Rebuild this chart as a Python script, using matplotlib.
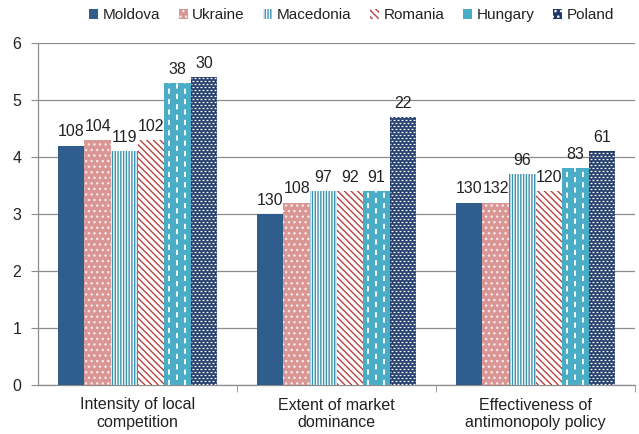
import matplotlib
matplotlib.use("Agg")
import matplotlib.pyplot as plt
import numpy as np
from matplotlib.patches import Patch

plt.rcParams['font.family'] = ['Liberation Sans', 'DejaVu Sans']
plt.rcParams['hatch.linewidth'] = 1.0

categories = ["Intensity of local\ncompetition", "Extent of market\ndominance",
              "Effectiveness of\nantimonopoly policy"]
countries = ["Moldova", "Ukraine", "Macedonia", "Romania", "Hungary", "Poland"]
moldova = [4.2, 3.0, 3.2]
ukraine = [4.3, 3.2, 3.2]
macedonia = [4.1, 3.4, 3.7]
romania = [4.3, 3.4, 3.4]
hungary = [5.3, 3.4, 3.8]
poland = [5.4, 4.7, 4.1]
ranks_moldova = [108, 130, 130]
ranks_ukraine = [104, 108, 132]
ranks_macedonia = [119, 97, 96]
ranks_romania = [102, 92, 120]
ranks_hungary = [38, 91, 83]
ranks_poland = [30, 22, 61]

values = [moldova, ukraine, macedonia, romania, hungary, poland]
ranks = [ranks_moldova, ranks_ukraine, ranks_macedonia, ranks_romania, ranks_hungary, ranks_poland]

styles = [
    dict(facecolor="#2E5D8E", edgecolor="#2E5D8E", hatch=None, pattern=None),
    dict(facecolor="#D99694", edgecolor="#F6E6E6", hatch="...", pattern=None),
    dict(facecolor="white", edgecolor="#3A93AC", hatch="||||||", pattern=None),
    dict(facecolor="white", edgecolor="#B8423F", hatch="\\\\\\\\\\", pattern=None),
    dict(facecolor="#4BACC6", edgecolor="#4BACC6", hatch=None, pattern="vdash"),
    dict(facecolor="#1F3B6B", edgecolor="#1F3B6B", hatch=None, pattern="hdash"),
]
legend_hatch = {"vdash": "|", "hdash": "..."}

W, H = 639, 434
fig = plt.figure(figsize=(W / 100, H / 100), dpi=100)
ax_px = (38, 43, 597, 342)  # left, top, width, height in px
ax = fig.add_axes([ax_px[0] / W, 1 - (ax_px[1] + ax_px[3]) / H, ax_px[2] / W, ax_px[3] / H])

ax.set_xlim(-0.5, 2.5)
ax.set_ylim(0, 6)
ypp = 6.0 / ax_px[3]   # data y per pixel
PT = 0.72              # points per pixel


def add_pattern(bar, kind):
    x0, y0 = bar.get_x(), bar.get_y()
    w, h = bar.get_width(), bar.get_height()
    if kind == "vdash":
        for k, fx in enumerate([0.2, 0.5, 0.8]):
            ln, = ax.plot([x0 + fx * w, x0 + fx * w], [y0, y0 + h], color="white",
                          lw=1.3, zorder=3.5, dash_capstyle="butt")
            ln.set_linestyle(((k % 2) * 4 * PT, (4 * PT, 4 * PT)))
            ln.set_clip_path(bar)
    elif kind == "hdash":
        n = int(h / (3 * ypp))
        for k in range(n + 1):
            yy = y0 + (k + 0.5) * 3 * ypp
            ln, = ax.plot([x0, x0 + w], [yy, yy], color="white", lw=1.0, zorder=3.5,
                          dash_capstyle="butt")
            ln.set_linestyle(((k % 2) * 2 * PT + PT, (2 * PT, 2 * PT)))
            ln.set_clip_path(bar)


x = np.arange(len(categories))
bw = 0.80 / 6
for i, (vals, rk, st) in enumerate(zip(values, ranks, styles)):
    pos = x - 0.40 + bw * (i + 0.5)
    bars = ax.bar(pos, vals, width=bw, facecolor=st["facecolor"], edgecolor=st["edgecolor"],
                  hatch=st["hatch"], linewidth=0, zorder=3)
    if st["pattern"]:
        for b in bars:
            add_pattern(b, st["pattern"])
    for p, v, r in zip(pos, vals, rk):
        ax.text(p, v + 0.11, str(r), ha="center", va="bottom", fontsize=11.5,
                color="#222222", zorder=4)

ax.set_yticks(range(0, 7))
ax.yaxis.grid(True, color="#8C8C8C", linewidth=0.9, zorder=0)
ax.set_axisbelow(True)
ax.set_xticks(x)
ax.set_xticklabels(categories, fontsize=11.5, color="#222222", linespacing=1.2)
ax.tick_params(axis="x", length=0, pad=9)
ax.set_xticks([0.5, 1.5, 2.5], minor=True)
ax.tick_params(axis="x", which="minor", length=5, color="#8C8C8C", direction="out")
ax.tick_params(axis="y", length=5, color="#8C8C8C", labelsize=11.5, labelcolor="#222222", pad=7)
for s in ["top", "right"]:
    ax.spines[s].set_visible(False)
for s in ["left", "bottom"]:
    ax.spines[s].set_color("#8C8C8C")
    ax.spines[s].set_linewidth(0.9)

handles = []
for st in styles:
    hatch = st["hatch"] if st["hatch"] else legend_hatch.get(st["pattern"])
    ec = st["edgecolor"] if st["hatch"] else ("white" if st["pattern"] else st["edgecolor"])
    handles.append(Patch(facecolor=st["facecolor"], edgecolor=ec, hatch=hatch, linewidth=0))
fig.legend(handles, countries, loc="upper center", bbox_to_anchor=(0.55, 1.0), ncol=6,
           frameon=False, fontsize=11, handlelength=0.6, handleheight=0.6,
           handletextpad=0.3, columnspacing=1.2, borderaxespad=0.15,
           labelcolor="#222222")

fig.savefig("out.png", dpi=100)
